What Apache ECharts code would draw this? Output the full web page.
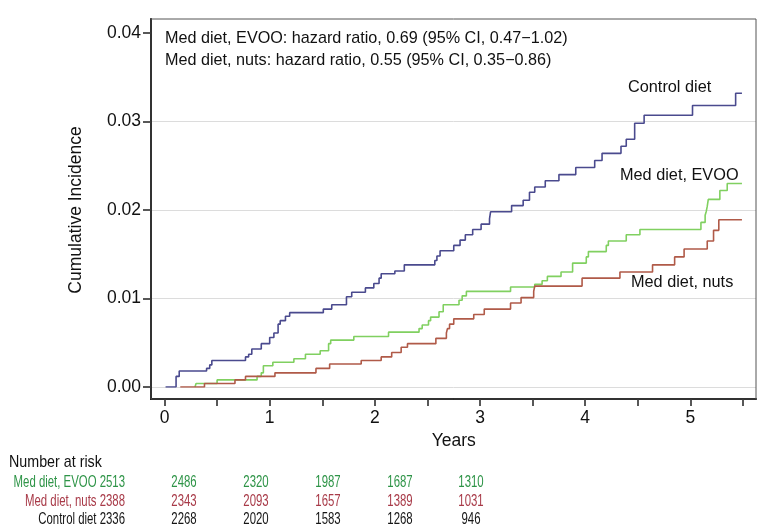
<!DOCTYPE html>
<html>
<head>
<meta charset="utf-8">
<script src="https://cdn.jsdelivr.net/npm/echarts@6/dist/echarts.min.js"></script>
<style>html,body{margin:0;padding:0;background:#fff}#c{width:768px;height:532px}</style>
</head>
<body>
<div id="c"></div>
<script>
// ---- data ----
const controlTimes = [0.01,0.11,0.14,0.40,0.43,0.45,0.77,0.80,0.83,0.92,1.00,1.04,1.08,1.10,1.15,1.19,1.51,1.59,1.73,1.78,1.91,1.99,2.04,2.06,2.19,2.28,2.57,2.59,2.62,2.75,2.81,2.86,2.93,3.01,3.09,3.10,3.30,3.41,3.47,3.52,3.62,3.75,3.91,4.09,4.16,4.34,4.39,4.47,4.56,5.02,5.43,5.49];
const controlVals  = [0,0.0012,0.0018,0.0021,0.0025,0.0030,0.0034,0.0037,0.0043,0.0049,0.0056,0.0061,0.0071,0.0075,0.0080,0.0084,0.0088,0.0093,0.0102,0.0107,0.0112,0.0117,0.0123,0.0128,0.0131,0.0138,0.0143,0.0148,0.0154,0.0160,0.0166,0.0172,0.0178,0.0184,0.0190,0.0198,0.0205,0.0211,0.0220,0.0226,0.0233,0.0240,0.0248,0.0256,0.0264,0.0272,0.0280,0.0298,0.0307,0.0318,0.0332,0.0332];

const evooTimes = [0.29,0.30,0.50,0.88,0.92,0.94,1.03,1.23,1.34,1.48,1.56,1.58,1.80,2.13,2.42,2.45,2.51,2.53,2.61,2.65,2.80,2.83,2.87,3.29,3.52,3.59,3.64,3.77,3.88,4.01,4.03,4.20,4.22,4.39,4.52,5.10,5.14,5.15,5.16,5.17,5.28,5.35,5.49];
const evooVals  = [0,0.0004,0.0008,0.0012,0.0016,0.0024,0.0028,0.0032,0.0037,0.0041,0.0049,0.0053,0.0057,0.0062,0.0066,0.0070,0.0075,0.0079,0.0085,0.0093,0.0098,0.0103,0.0108,0.0113,0.0116,0.0120,0.0125,0.0130,0.0140,0.0147,0.0153,0.0160,0.0165,0.0172,0.0178,0.0186,0.0194,0.0198,0.0204,0.0212,0.0222,0.0230,0.0230];

const nutsTimes = [0.15,0.38,0.67,0.77,1.05,1.44,1.57,1.87,2.06,2.16,2.25,2.31,2.58,2.68,2.69,2.71,2.75,2.94,3.04,3.29,3.39,3.51,3.52,3.97,4.33,4.64,4.85,4.94,5.16,5.22,5.27,5.49];
const nutsVals  = [0,0.0004,0.0008,0.0012,0.0016,0.0021,0.0026,0.0030,0.0034,0.0039,0.0045,0.0049,0.0055,0.0061,0.0066,0.0071,0.0077,0.0082,0.0088,0.0095,0.0101,0.0108,0.0114,0.0123,0.0130,0.0138,0.0147,0.0156,0.0165,0.0177,0.0189,0.0189];

const seriesNames = ['Control diet','Med diet, EVOO','Med diet, nuts'];
const annotationLines = ['Med diet, EVOO: hazard ratio, 0.69 (95% CI, 0.47\u22121.02)','Med diet, nuts: hazard ratio, 0.55 (95% CI, 0.35\u22120.86)'];
const xTicks = [0,0.5,1,1.5,2,2.5,3,3.5,4,4.5,5,5.5];
const yTicks = [0,0.01,0.02,0.03,0.04];

const riskTitle = 'Number at risk';
const riskLabels = ['Med diet, EVOO','Med diet, nuts','Control diet'];
const riskEvoo    = [2513,2486,2320,1987,1687,1310];
const riskNuts    = [2388,2343,2093,1657,1389,1031];
const riskControl = [2336,2268,2020,1583,1268,946];

// ---- chart ----
const FONT = '"Liberation Sans", Arial, Helvetica, sans-serif';
const colors = {control:'#4a4a8e', evoo:'#80d060', nuts:'#b05a48'};
const pairs = (t,v) => t.map((x,i)=>[x,v[i]]);

const chart = echarts.init(document.getElementById('c'), null, {renderer:'canvas'});

const graphics = [];
annotationLines.forEach((s,i)=>{
  graphics.push({type:'text', x:165, y:38.5+i*22, style:{text:s, fontSize:16.2, fontFamily:FONT, fill:'#111', textVerticalAlign:'middle'}});
});
const curveLabels = [[seriesNames[0],628,88],[seriesNames[1],620,176],[seriesNames[2],631,283]];
curveLabels.forEach(c=>graphics.push({type:'text', x:c[1], y:c[2], style:{text:c[0], fontSize:16.3, fontFamily:FONT, fill:'#111', textVerticalAlign:'middle'}}));

graphics.push({type:'text', x:9, y:462, scaleX:0.84, style:{text:riskTitle, fontSize:17, fontFamily:FONT, fill:'#111', textVerticalAlign:'middle'}});
const riskRows = [riskEvoo, riskNuts, riskControl];
const riskColors = ['#2e9447','#a83a48','#151515'];
const colX = [184,256,328,400,471];
riskRows.forEach((row,r)=>{
  const yy = 482.5 + r*18.5;
  graphics.push({type:'text', x:125, y:yy, scaleX:0.69, style:{text:riskLabels[r]+' '+row[0], fontSize:16.5, fontFamily:FONT, fill:riskColors[r], textAlign:'right', textVerticalAlign:'middle'}});
  row.slice(1).forEach((n,i)=>{
    graphics.push({type:'text', x:colX[i], y:yy, scaleX:0.69, style:{text:String(n), fontSize:16.5, fontFamily:FONT, fill:riskColors[r], textAlign:'center', textVerticalAlign:'middle'}});
  });
});

const hidden = {show:false};
const option = {
  animation:false,
  backgroundColor:'#fff',
  grid:[
    {left:151, right:12, top:19, bottom:133, show:true, borderColor:'#555', borderWidth:1, backgroundColor:'transparent', z:1},
    {left:164.5, right:25, top:33, bottom:145},
    {left:151, right:12, top:33, bottom:145},
    {left:164.5, right:25, top:19, bottom:133}
  ],
  xAxis:[
    {gridIndex:0, type:'value', min:0, max:1, axisLine:{show:true, onZero:false, lineStyle:{color:'#111', width:2}}, axisTick:hidden, axisLabel:hidden, splitLine:hidden},
    {gridIndex:1, type:'value', min:0, max:5.5, show:false},
    {gridIndex:2, type:'value', min:0, max:1, show:false},
    {gridIndex:3, type:'value', min:0, max:5.5, interval:0.5,
      axisLine:{show:false, onZero:false}, axisTick:{show:true, length:7, lineStyle:{color:'#222', width:1.5}},
      axisLabel:{show:true, margin:10, fontSize:17.5, fontFamily:FONT, color:'#111', formatter:v=> Number.isInteger(v)? String(v):''},
      splitLine:hidden, name:'Years', nameLocation:'middle', nameGap:31,
      nameTextStyle:{fontSize:17.5, fontFamily:FONT, color:'#111'}}
  ],
  yAxis:[
    {gridIndex:0, type:'value', min:0, max:1, axisLine:{show:true, onZero:false, lineStyle:{color:'#111', width:2}}, axisTick:hidden, axisLabel:hidden, splitLine:hidden},
    {gridIndex:1, type:'value', min:0, max:0.04, show:false},
    {gridIndex:2, type:'value', min:0, max:0.04, interval:0.01,
      axisLine:{show:false, onZero:false}, axisTick:{show:true, length:8, lineStyle:{color:'#222', width:1.5}},
      axisLabel:{show:true, margin:10, fontSize:17.5, fontFamily:FONT, color:'#111', formatter:v=>v.toFixed(2)},
      splitLine:{show:true, showMaxLine:false, lineStyle:{color:'#dcdcdc', width:1}},
      name:'Cumulative Incidence', nameLocation:'middle', nameGap:66,
      nameTextStyle:{fontSize:17.5, fontFamily:FONT, color:'#111'}},
    {gridIndex:3, type:'value', min:0, max:1, show:false}
  ],
  series:[
    {name:seriesNames[0], type:'line', xAxisIndex:1, yAxisIndex:1, step:'end', symbol:'none', data:pairs(controlTimes,controlVals), lineStyle:{color:colors.control, width:1.6}, z:5},
    {name:seriesNames[1], type:'line', xAxisIndex:1, yAxisIndex:1, step:'end', symbol:'none', data:pairs(evooTimes,evooVals), lineStyle:{color:colors.evoo, width:1.6}, z:4},
    {name:seriesNames[2], type:'line', xAxisIndex:1, yAxisIndex:1, step:'end', symbol:'none', data:pairs(nutsTimes,nutsVals), lineStyle:{color:colors.nuts, width:1.6}, z:4}
  ],
  graphic:graphics
};
chart.setOption(option);
</script>
</body>
</html>
